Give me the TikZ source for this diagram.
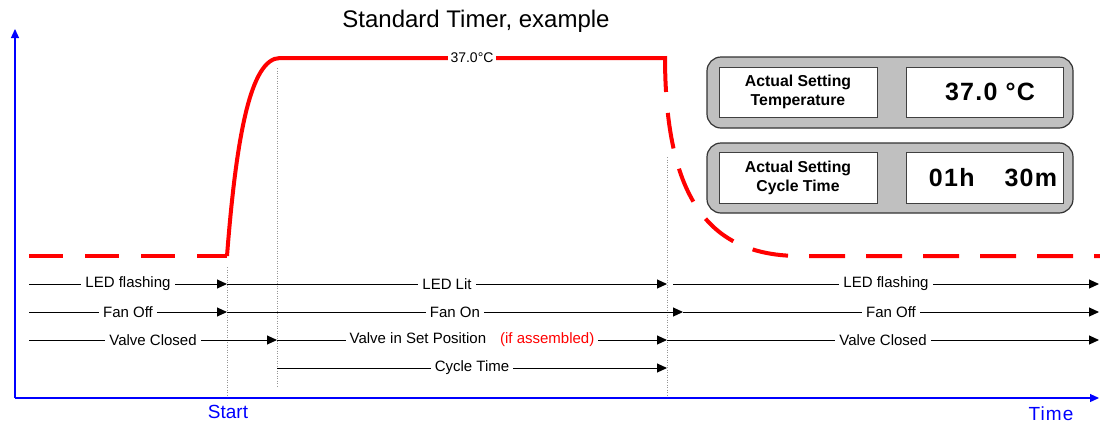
\documentclass[tikz,border=0pt]{standalone}
\usepackage{fontspec}
\setmainfont{Liberation Sans}
\newfontfamily\lcdfont[LetterSpace=5]{Liberation Sans}
\newfontfamily\widefont[LetterSpace=6]{Liberation Sans}
\usetikzlibrary{arrows.meta}
\definecolor{axisblue}{RGB}{0,0,255}
\definecolor{curvered}{RGB}{255,0,0}
\definecolor{panelgray}{RGB}{192,192,192}
\definecolor{dotgray}{RGB}{150,150,150}
\tikzset{
  axisline/.style={draw=axisblue, line width=1.2pt, -{Triangle[length=9pt,width=8pt]}},
  curve/.style={draw=curvered, line width=4pt},
  guide/.style={draw=dotgray, line width=0.8pt, dash pattern=on 1pt off 1.5pt},
  rowarrow/.style={draw=black, line width=1pt, -{Triangle[length=10pt,width=9pt]}},
  rowlabel/.style={fill=white, inner sep=4pt, font=\fontsize{15}{17}\selectfont, text=black},
  templabel/.style={fill=white, inner sep=3pt, font=\fontsize{14}{16}\selectfont, text=black},
  panel/.style={draw=black!80, fill=panelgray, line width=1.2pt, rounded corners=14pt, inner sep=0pt},
  lcdbox/.style={draw=black!75, fill=white, line width=1pt, inner sep=0pt},
  caption/.style={font=\fontsize{15.8}{19}\selectfont\bfseries, align=center},
  lcdtext/.style={font=\fontsize{25}{30}\selectfont\lcdfont\bfseries},
  axislabel/.style={text=axisblue, font=\fontsize{19}{22}\selectfont},
}
\begin{document}
\begin{tikzpicture}[x=1pt,y=-1pt]
\useasboundingbox (0,0) rectangle (1100,424);

% title
\node (title) at (476,21) {\fontsize{24}{28}\selectfont Standard Timer, example};

% axes
\coordinate (o) at (15,398);
\coordinate (yt) at (15,29);
\coordinate (xt) at (1099,398);
\draw[axisline] (o) -- (yt);
\draw[axisline] (o) -- (xt);
\node[axislabel] (start) at (228,412) {Start};
\node[axislabel, font=\fontsize{19}{22}\selectfont\widefont] (time) at (1051,414) {Time};

% dotted guides
\coordinate (g1a) at (227,267); \coordinate (g1b) at (227,397);
\coordinate (g2a) at (277,68);  \coordinate (g2b) at (277,386);
\coordinate (g3a) at (667,157); \coordinate (g3b) at (667,397);
\draw[guide] (g1a) -- (g1b);
\draw[guide] (g2a) -- (g2b);
\draw[guide] (g3a) -- (g3b);

% red temperature curve
\coordinate (c0) at (29,256);
\coordinate (c1) at (227,256);
\coordinate (c2) at (280,58);
\coordinate (c3) at (665,58);
\coordinate (c4) at (665,56);
\coordinate (c5) at (800,256);
\coordinate (c6) at (1100,256);
\draw[curve, dash pattern=on 34pt off 22pt] (c0) -- (c1);
\draw[curve, line join=round] (c1) .. controls (236,140) and (250,58) .. (c2) -- (c3);
\node[templabel] (temp) at (472,58) {37.0°C};
\draw[curve, dash pattern=on 36pt off 21pt] (c4) .. controls (665,200) and (710,256) .. (c5) -- (c6);

% display panels
\node[panel, minimum width=366pt, minimum height=71pt] (p1) at (890,92.5) {};
\node[lcdbox, caption, minimum width=158pt, minimum height=50pt] (p1cap) at (798,92) {Actual Setting\\Temperature};
\node[lcdbox, minimum width=157pt, minimum height=50pt] (p1box) at (984.5,92) {};
\node[lcdtext] (p1val) at (990,92) {37.0 °C};

\node[panel, minimum width=366pt, minimum height=70pt] (p2) at (890,178) {};
\node[lcdbox, caption, minimum width=158pt, minimum height=51pt] (p2cap) at (798,177.5) {Actual Setting\\Cycle Time};
\node[lcdbox, minimum width=157pt, minimum height=51pt] (p2box) at (984.5,177.5) {};
\node[lcdtext] (p2val) at (993,178) {01h\hspace{30pt}30m};

% row 1: LED
\coordinate (r1a) at (29,284); \coordinate (r1b) at (227,284);
\coordinate (r1c) at (667,284); \coordinate (r1d) at (673,284);
\coordinate (r1e) at (1099,284);
\draw[rowarrow] (r1a) -- (r1b) node[rowlabel, midway] (l1a) {LED flashing};
\draw[rowarrow] (r1b) -- (r1c) node[rowlabel, midway] (l1b) {LED Lit};
\draw[rowarrow] (r1d) -- (r1e) node[rowlabel, midway] (l1c) {LED flashing};

% row 2: Fan
\coordinate (r2a) at (29,312); \coordinate (r2b) at (227,312);
\coordinate (r2c) at (683,312); \coordinate (r2d) at (1099,312);
\draw[rowarrow] (r2a) -- (r2b) node[rowlabel, midway] (l2a) {Fan Off};
\draw[rowarrow] (r2b) -- (r2c) node[rowlabel, midway] (l2b) {Fan On};
\draw[rowarrow] (r2c) -- (r2d) node[rowlabel, midway] (l2c) {Fan Off};

% row 3: Valve
\coordinate (r3a) at (29,340); \coordinate (r3b) at (277,340);
\coordinate (r3c) at (667,340); \coordinate (r3d) at (1099,340);
\draw[rowarrow] (r3a) -- (r3b) node[rowlabel, midway] (l3a) {Valve Closed};
\draw[rowarrow] (r3b) -- (r3c) node[rowlabel, midway] (l3b) {Valve in Set Position\hspace{14pt}{\color{curvered}(if assembled)}};
\draw[rowarrow] (r3c) -- (r3d) node[rowlabel, midway] (l3c) {Valve Closed};

% row 4: Cycle time
\coordinate (r4a) at (277,368); \coordinate (r4b) at (667,368);
\draw[rowarrow] (r4a) -- (r4b) node[rowlabel, midway] (l4a) {Cycle Time};
\end{tikzpicture}
\end{document}
